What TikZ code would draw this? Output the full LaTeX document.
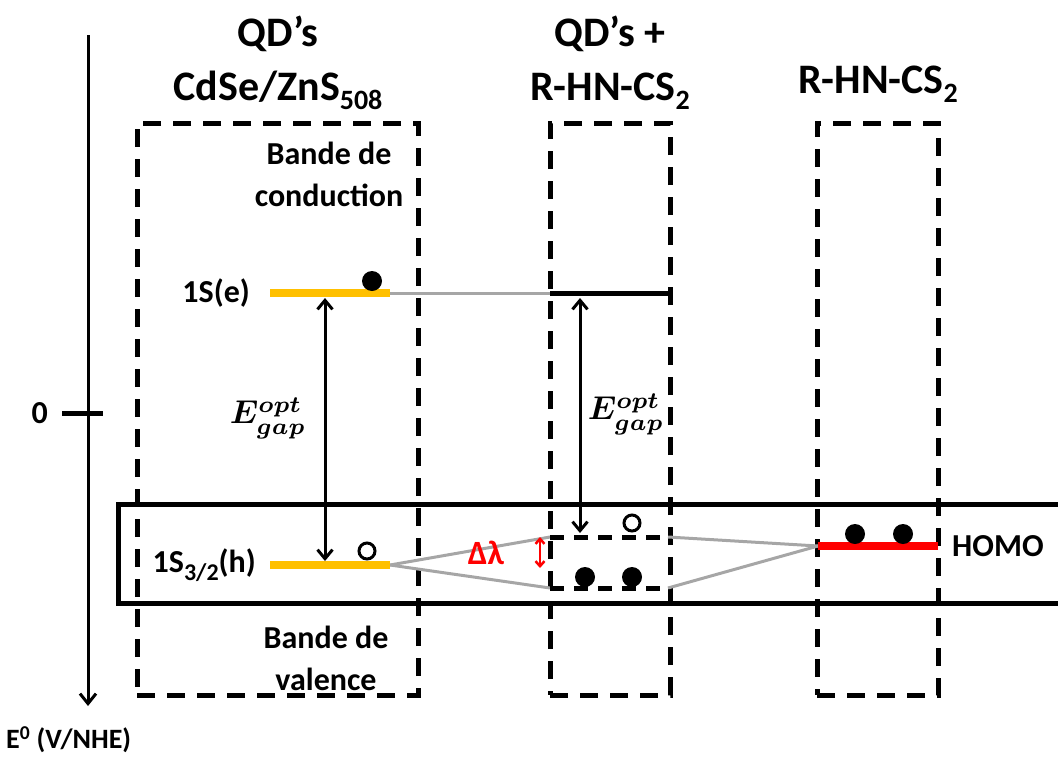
\documentclass[tikz,border=0pt]{standalone}
\usepackage{fontspec}
\setmainfont{Carlito}
\usepackage{xcolor}
\usetikzlibrary{positioning,arrows.meta}

\definecolor{qdgold}{HTML}{FFC000}

\begin{document}
\begin{tikzpicture}[
  x=1pt, y=-1pt,
  title/.style={font=\fontsize{42}{54}\selectfont\bfseries, align=center, inner sep=0pt},
  txt/.style={font=\fontsize{32}{42}\selectfont\bfseries, align=center, inner sep=0pt},
  zone/.style={draw, line width=5pt, dash pattern=on 18pt off 12pt, inner sep=0pt},
  sublevel/.style={line width=5pt, dash pattern=on 14pt off 10pt},
  lvl/.style={line width=8pt},
  link/.style={draw=black!35, line width=3pt},
  el/.style={circle, fill, inner sep=0pt, minimum size=20pt},
  hole/.style={circle, draw, line width=3pt, inner sep=0pt, minimum size=16pt},
  gapmath/.style={inner sep=0pt, scale=3.3, font=\boldmath},
  gaparrow/.style={line width=3pt, {Straight Barb[length=9pt,width=15pt]}-{Straight Barb[length=9pt,width=15pt]}},
  >={Straight Barb[length=10pt,width=16pt]}
]
  \useasboundingbox (0,0) rectangle (1058,758);

  % energy axis
  \coordinate (axtop) at (88,35);
  \coordinate (axbot) at (88,706);
  \draw[line width=3pt, ->] (axtop) -- (axbot);
  \coordinate (tick1) at (62,413);
  \coordinate (tick2) at (103,413);
  \draw[line width=5pt] (tick1) -- (tick2);
  \node[txt, left=14pt of tick1] (zero) {0};
  \node[txt, font=\fontsize{28}{34}\selectfont\bfseries, anchor=west] (axlbl) at (6,740) {E\textsuperscript{0} (V/NHE)};

  % dashed columns
  \node[zone, minimum width=281pt, minimum height=572pt] (qd) at (277.5,409) {};
  \node[zone, minimum width=120pt, minimum height=572pt] (mix) at (610,409) {};
  \node[zone, minimum width=121pt, minimum height=572pt] (lig) at (877.5,409) {};

  % titles
  \node[title] (tqd) at (278,63) {QD’s\\CdSe/ZnS{\fontsize{28}{28}\selectfont\raisebox{-9pt}{508}}};
  \node[title] (tmix) at (610,63) {QD’s +\\R-HN-CS{\fontsize{28}{28}\selectfont\raisebox{-9pt}{2}}};
  \node[title] (tlig) at (878,84) {R-HN-CS{\fontsize{28}{28}\selectfont\raisebox{-9pt}{2}}};

  % valence band frame
  \node[draw, line width=5pt, inner sep=0pt, minimum width=952pt, minimum height=99pt] (vb) at (594,553.5) {};

  % levels
  \coordinate (eA1) at (270,293); \coordinate (eA2) at (390,293);
  \coordinate (eB1) at (550,293); \coordinate (eB2) at (668,293);
  \coordinate (hA1) at (270,565); \coordinate (hA2) at (390,565);
  \coordinate (hB1) at (550,537); \coordinate (hB2) at (668,537);
  \coordinate (lB1) at (550,588); \coordinate (lB2) at (668,588);
  \coordinate (ho1) at (818,546); \coordinate (ho2) at (938,546);

  \draw[link] (eA2) -- (eB1);
  \draw[link] (hA2) -- (hB1);
  \draw[link] (hA2) -- (lB1);
  \draw[link] (hB2) -- (ho1);
  \draw[link] (lB2) -- (ho1);

  \draw[lvl, qdgold] (eA1) -- (eA2);
  \draw[line width=5pt] (eB1) -- (eB2);
  \draw[lvl, qdgold] (hA1) -- (hA2);
  \draw[sublevel] (hB1) -- (hB2);
  \draw[sublevel] (lB1) -- (lB2);
  \draw[lvl, red] (ho1) -- (ho2);

  \node[txt, left=20pt of eA1] (l1se) {1S(e)};
  \node[txt, left=14pt of hA1] (l1sh) {1S{\fontsize{24}{24}\selectfont\raisebox{-8pt}{3/2}}(h)};
  \node[txt, right=14pt of ho2] (homo) {HOMO};
  \node[txt] (cb) at (329,174) {Bande de\\conduction};
  \node[txt] (vbt) at (326,658) {Bande de\\valence};

  % electrons and holes
  \node[el] (e1) at (372,281) {};
  \node[hole] (h1) at (367,551) {};
  \node[hole] (h2) at (632,523) {};
  \node[el] (e2) at (585,577) {};
  \node[el] (e3) at (632,577) {};
  \node[el] (e4) at (855,534) {};
  \node[el] (e5) at (903,534) {};

  % optical gaps
  \coordinate (gA1) at (325,298); \coordinate (gA2) at (325,561);
  \coordinate (gB1) at (580,298); \coordinate (gB2) at (580,533);
  \draw[gaparrow] (gA1) -- (gA2);
  \draw[gaparrow] (gB1) -- (gB2);
  \node[gapmath] (gapA) at (268,418) {$E^{opt}_{gap}$};
  \node[gapmath] (gapB) at (626,414) {$E^{opt}_{gap}$};

  % shift
  \coordinate (dl1) at (540,537); \coordinate (dl2) at (540,568);
  \draw[red, line width=2.5pt, {Straight Barb[length=5pt,width=9pt]}-{Straight Barb[length=5pt,width=9pt]}] (dl1) -- (dl2);
  \node[txt, red, font=\fontsize{34}{34}\selectfont\bfseries] (dlam) at (486,553) {Δλ};
\end{tikzpicture}
\end{document}
